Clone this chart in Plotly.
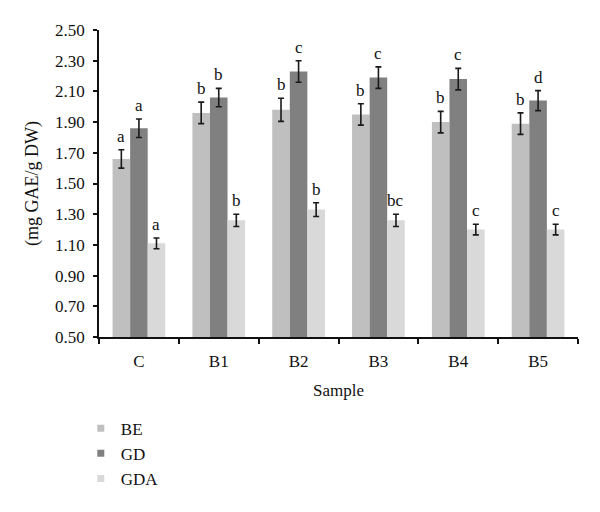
import plotly.graph_objects as go

samples = ["C", "B1", "B2", "B3", "B4", "B5"]
series_names = ["BE", "GD", "GDA"]
be_vals = [1.66, 1.96, 1.98, 1.95, 1.90, 1.89]
gd_vals = [1.86, 2.06, 2.23, 2.19, 2.18, 2.04]
gda_vals = [1.11, 1.26, 1.33, 1.26, 1.20, 1.20]
be_err = [0.06, 0.07, 0.075, 0.07, 0.07, 0.07]
gd_err = [0.06, 0.06, 0.07, 0.07, 0.07, 0.065]
gda_err = [0.035, 0.04, 0.045, 0.04, 0.035, 0.035]
be_letters = ["a", "b", "b", "b", "b", "b"]
gd_letters = ["a", "b", "c", "c", "c", "d"]
gda_letters = ["a", "b", "b", "bc", "c", "c"]
y_ticks = [0.50, 0.70, 0.90, 1.10, 1.30, 1.50, 1.70, 1.90, 2.10, 2.30, 2.50]

colors = ["#bfbfbf", "#808080", "#d9d9d9"]
values = [be_vals, gd_vals, gda_vals]
errors = [be_err, gd_err, gda_err]
letters = [be_letters, gd_letters, gda_letters]

W, H = 600, 512
ml, mr, mt, mb = 99, 22, 30, 175
bargap = 0.34
font_family = "Liberation Serif, Times New Roman, serif"

fig = go.Figure()
for name, vals, errs, col in zip(series_names, values, errors, colors):
    fig.add_trace(go.Bar(
        x=samples, y=vals, name=name, marker=dict(color=col, line=dict(width=0)),
        error_y=dict(type="data", array=errs, visible=True, color="#1a1a1a",
                     thickness=1.6, width=3),
        showlegend=False,
    ))
# legend-only entries with small square markers
for name, col in zip(series_names, colors):
    fig.add_trace(go.Scatter(
        x=[None], y=[None], mode="markers", name=name,
        marker=dict(symbol="square", size=7, color=col),
        showlegend=True,
    ))

plot_w = W - ml - mr
cat_w = plot_w / len(samples)
bar_w = cat_w * (1 - bargap) / 3
for si, (vals, errs, lets) in enumerate(zip(values, errors, letters)):
    for ci, s in enumerate(samples):
        fig.add_annotation(
            x=s, y=vals[ci] + errs[ci], text=lets[ci], showarrow=False,
            xshift=(si - 1) * bar_w, yanchor="bottom", yshift=2,
            font=dict(family=font_family, size=17, color="#111"),
        )

fig.update_layout(
    width=W, height=H,
    margin=dict(l=ml, r=mr, t=mt, b=mb),
    paper_bgcolor="white", plot_bgcolor="white",
    barmode="group", bargap=bargap, bargroupgap=0,
    font=dict(family=font_family, size=17, color="#111"),
    legend=dict(x=-0.038, xanchor="left", y=-0.24, yanchor="top",
                orientation="v", font=dict(size=17), itemsizing="trace"),
)
fig.update_xaxes(
    showline=True, linecolor="#111", linewidth=1.5,
    ticks="outside", tickson="boundaries", ticklen=5, tickwidth=1.5, tickcolor="#111",
    tickfont=dict(size=17), ticklabelstandoff=8,
    title=dict(text="Sample", font=dict(size=17), standoff=14),
    showgrid=False,
)
fig.update_yaxes(
    range=[0.5, 2.5], tickvals=y_ticks, tickformat=".2f",
    showline=True, linecolor="#111", linewidth=1.5,
    ticks="outside", ticklen=4, tickwidth=1.5, tickcolor="#111",
    tickfont=dict(size=17), ticklabelstandoff=5,
    title=dict(text="(mg GAE/g DW)", font=dict(size=18), standoff=12),
    showgrid=False, zeroline=False,
)
fig.write_html("out.html", config={"displayModeBar": False},
               post_script="document.body.style.margin='0';")
